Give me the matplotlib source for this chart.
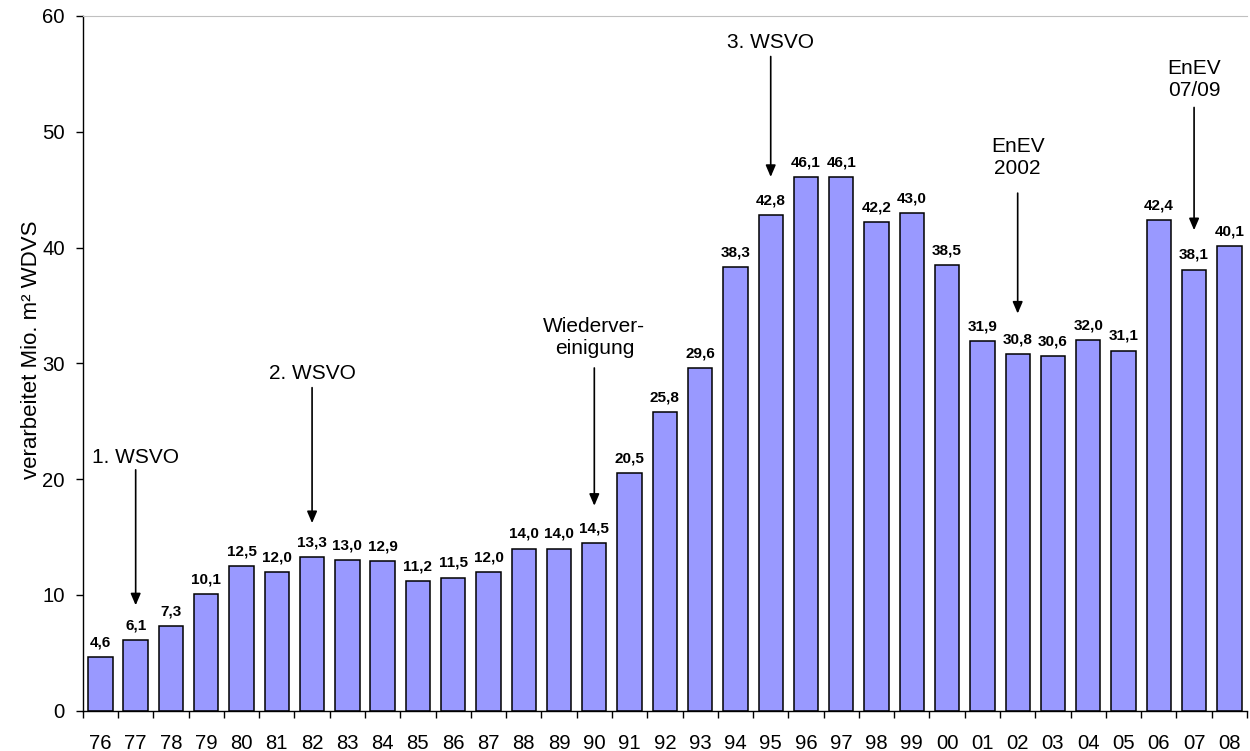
import numpy as np
import matplotlib
matplotlib.use('Agg')
import matplotlib.pyplot as plt

plt.rcParams['font.family'] = ['Liberation Sans', 'DejaVu Sans']

# Daten: verarbeitete WDVS-Menge pro Jahr
jahre = ['76', '77', '78', '79', '80', '81', '82', '83', '84', '85', '86',
         '87', '88', '89', '90', '91', '92', '93', '94', '95', '96', '97',
         '98', '99', '00', '01', '02', '03', '04', '05', '06', '07', '08']
werte = [4.6, 6.1, 7.3, 10.1, 12.5, 12.0, 13.3, 13.0, 12.9, 11.2, 11.5,
         12.0, 14.0, 14.0, 14.5, 20.5, 25.8, 29.6, 38.3, 42.8, 46.1, 46.1,
         42.2, 43.0, 38.5, 31.9, 30.8, 30.6, 32.0, 31.1, 42.4, 38.1, 40.1]

# Ereignisse: Text, Jahr, Textposition, Pfeilanfang, Pfeilspitze
ereignis_text = ['1. WSVO', '2. WSVO', 'Wiederver-\neinigung', '3. WSVO',
                 'EnEV\n2002', 'EnEV\n07/09']
ereignis_jahr = ['77', '82', '90', '95', '02', '07']
ereignis_text_y = [21.9, 29.1, 32.2, 57.7, 47.8, 54.5]
ereignis_start_y = [20.8, 27.9, 29.6, 56.5, 44.7, 52.1]
ereignis_spitze_y = [9.1, 16.2, 17.7, 46.1, 34.3, 41.5]

x = np.arange(len(jahre))

fig = plt.figure(figsize=(12.5, 7.51), dpi=100)
ax = fig.add_axes([0.0662, 0.0537, 0.9314, 0.925])

ax.bar(x, werte, width=0.69, color='#9999FF', edgecolor='black', linewidth=1.1)

# Werte über den Balken
for xi, v in zip(x, werte):
    ax.annotate(f'{v:.1f}'.replace('.', ','), (xi, v), xytext=(0, 5.5),
                textcoords='offset points', ha='center', va='bottom',
                fontsize=11, fontweight='bold')

# Ereignisse mit Pfeilen
for t, j, ty, sy, py in zip(ereignis_text, ereignis_jahr, ereignis_text_y,
                            ereignis_start_y, ereignis_spitze_y):
    xi = jahre.index(j)
    ax.text(xi, ty, t, ha='center', va='center', fontsize=15, linespacing=1.2)
    ax.annotate('', xy=(xi, py), xytext=(xi, sy),
                arrowprops=dict(arrowstyle='-|>,head_length=0.7,head_width=0.3',
                                color='black', lw=1.2, shrinkA=0, shrinkB=0))

ax.set_xlim(-0.5, len(jahre) - 0.5)
ax.set_ylim(0, 60)
ax.set_yticks(range(0, 61, 10))
ax.set_xticks(x)
ax.set_xticklabels(jahre)
ax.set_xticks(np.arange(-0.5, len(jahre), 1), minor=True)
ax.tick_params(axis='x', which='major', length=0, pad=17, labelsize=14.6)
ax.tick_params(axis='x', which='minor', length=5, width=1, direction='out')
ax.tick_params(axis='y', length=5, width=1, direction='out', pad=8, labelsize=14.6)

ax.set_ylabel('verarbeitet Mio. m² WDVS', fontsize=16)
ax.yaxis.set_label_coords(-0.035, 0.519)

ax.spines['right'].set_visible(False)
ax.spines['top'].set_color('#c0c0c0')
ax.spines['left'].set_linewidth(1)
ax.spines['bottom'].set_linewidth(1)

plt.savefig('out.png', dpi=100)
